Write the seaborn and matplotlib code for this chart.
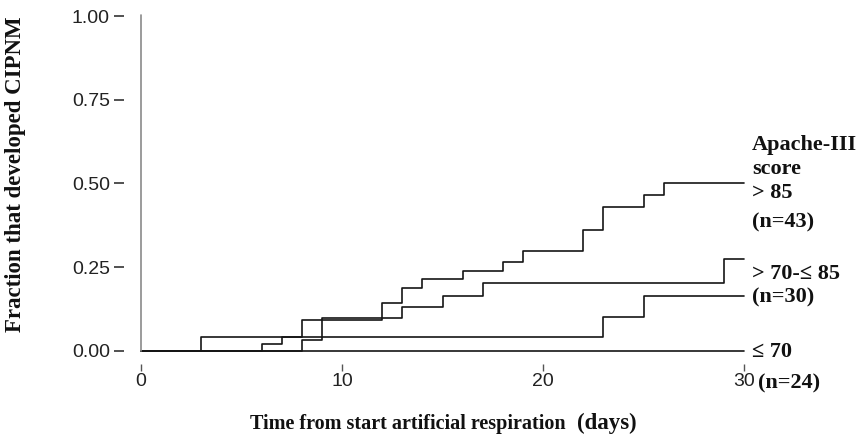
import matplotlib
matplotlib.use("Agg")
import matplotlib.pyplot as plt
import seaborn as sns
import pandas as pd

# ---- data ----
days_gt85 = [0, 6, 7, 8, 12, 13, 14, 16, 18, 19, 22, 23, 25, 26, 30]
frac_gt85 = [0, 0.020, 0.039, 0.091, 0.141, 0.188, 0.214, 0.238, 0.265, 0.297, 0.362, 0.430, 0.465, 0.500, 0.500]

days_70_85 = [0, 8, 9, 13, 15, 17, 29, 30]
frac_70_85 = [0, 0.031, 0.097, 0.131, 0.164, 0.201, 0.273, 0.273]

days_le70 = [0, 3, 23, 25, 30]
frac_le70 = [0, 0.039, 0.101, 0.164, 0.164]

days_base = [0, 30]
frac_base = [0, 0]

x_ticks = [0, 10, 20, 30]
y_ticks = [0.0, 0.25, 0.5, 0.75, 1.0]
y_ticklabels = ["0.00", "0.25", "0.50", "0.75", "1.00"]

groups = [">85", ">70-≤85", "≤70", "base"]

frames = []
for g, d, f in zip(groups,
                   [days_gt85, days_70_85, days_le70, days_base],
                   [frac_gt85, frac_70_85, frac_le70, frac_base]):
    frames.append(pd.DataFrame({"day": d, "frac": f, "group": g}))
df = pd.concat(frames, ignore_index=True)

sns.set_theme(style="white")

W, H = 864, 444
fig = plt.figure(figsize=(W / 100, H / 100), dpi=100)
x0, x30 = 141, 744
y0, y1 = 350.5, 16.5
ax = fig.add_axes([x0 / W, (H - y0) / H, (x30 - x0) / W, (y0 - y1) / H])

sns.lineplot(data=df, x="day", y="frac", hue="group",
             palette={g: "#151515" for g in groups},
             drawstyle="steps-post", estimator=None, sort=True,
             legend=False, linewidth=1.2, ax=ax)
for ln in ax.lines:
    ln.set_clip_on(False)

# vertical line at day 0 (y axis line)
ax.plot([0, 0], [0, 1.005], color="#8a8a8a", lw=1.2, clip_on=False)

ax.set_xlim(0, 30)
ax.set_ylim(0, 1)
ax.set_xlabel("")
ax.set_ylabel("")

for s in ["top", "right"]:
    ax.spines[s].set_visible(False)
ax.spines["left"].set_position(("outward", 12))
ax.spines["bottom"].set_position(("outward", 10))
ax.spines["left"].set_color("none")
ax.spines["bottom"].set_color("none")

ax.set_xticks(x_ticks)
ax.set_xticklabels([str(t) for t in x_ticks])
ax.set_yticks(y_ticks)
ax.set_yticklabels(y_ticklabels)
ax.tick_params(axis="y", direction="out", length=7.5, width=1.2, color="#333333",
               left=True, pad=3, labelsize=14, labelcolor="#222222")
ax.tick_params(axis="x", direction="out", length=5, width=1.0, color="#555555",
               bottom=True, pad=1.5, labelsize=14, labelcolor="#222222")
for lab in ax.get_xticklabels() + ax.get_yticklabels():
    lab.set_fontfamily("Liberation Sans")

serif = dict(family="Liberation Serif", weight="bold", color="#111111")

def px(xp, yp):
    return xp / W, 1 - yp / H

# right side annotations
fs = 16
fig.text(*px(752, 150), "Apache-III", fontsize=fs, va="baseline", ha="left", **serif)
fig.text(*px(752, 174), "score", fontsize=fs, va="baseline", ha="left", **serif)
fig.text(*px(752, 198), "> 85", fontsize=fs, va="baseline", ha="left", **serif)
fig.text(*px(752, 227), "(n=43)", fontsize=fs, va="baseline", ha="left", **serif)
fig.text(*px(752, 279), "> 70-≤ 85", fontsize=fs, va="baseline", ha="left", **serif)
fig.text(*px(752, 302), "(n=30)", fontsize=fs, va="baseline", ha="left", **serif)
fig.text(*px(752, 357), "≤ 70", fontsize=fs, va="baseline", ha="left", **serif)
fig.text(*px(758, 388), "(n=24)", fontsize=fs, va="baseline", ha="left", **serif)

# axis titles
fig.text(*px(16, 174), "Fraction that developed CIPNM", fontsize=16.5, rotation=90,
         ha="center", va="center", **serif)
fig.text(*px(250, 429), "Time from start artificial respiration", fontsize=14.5,
         ha="left", va="baseline", **serif)
fig.text(*px(577, 429), "(days)", fontsize=16.5, ha="left", va="baseline", **serif)

fig.savefig("out.png", dpi=100)
